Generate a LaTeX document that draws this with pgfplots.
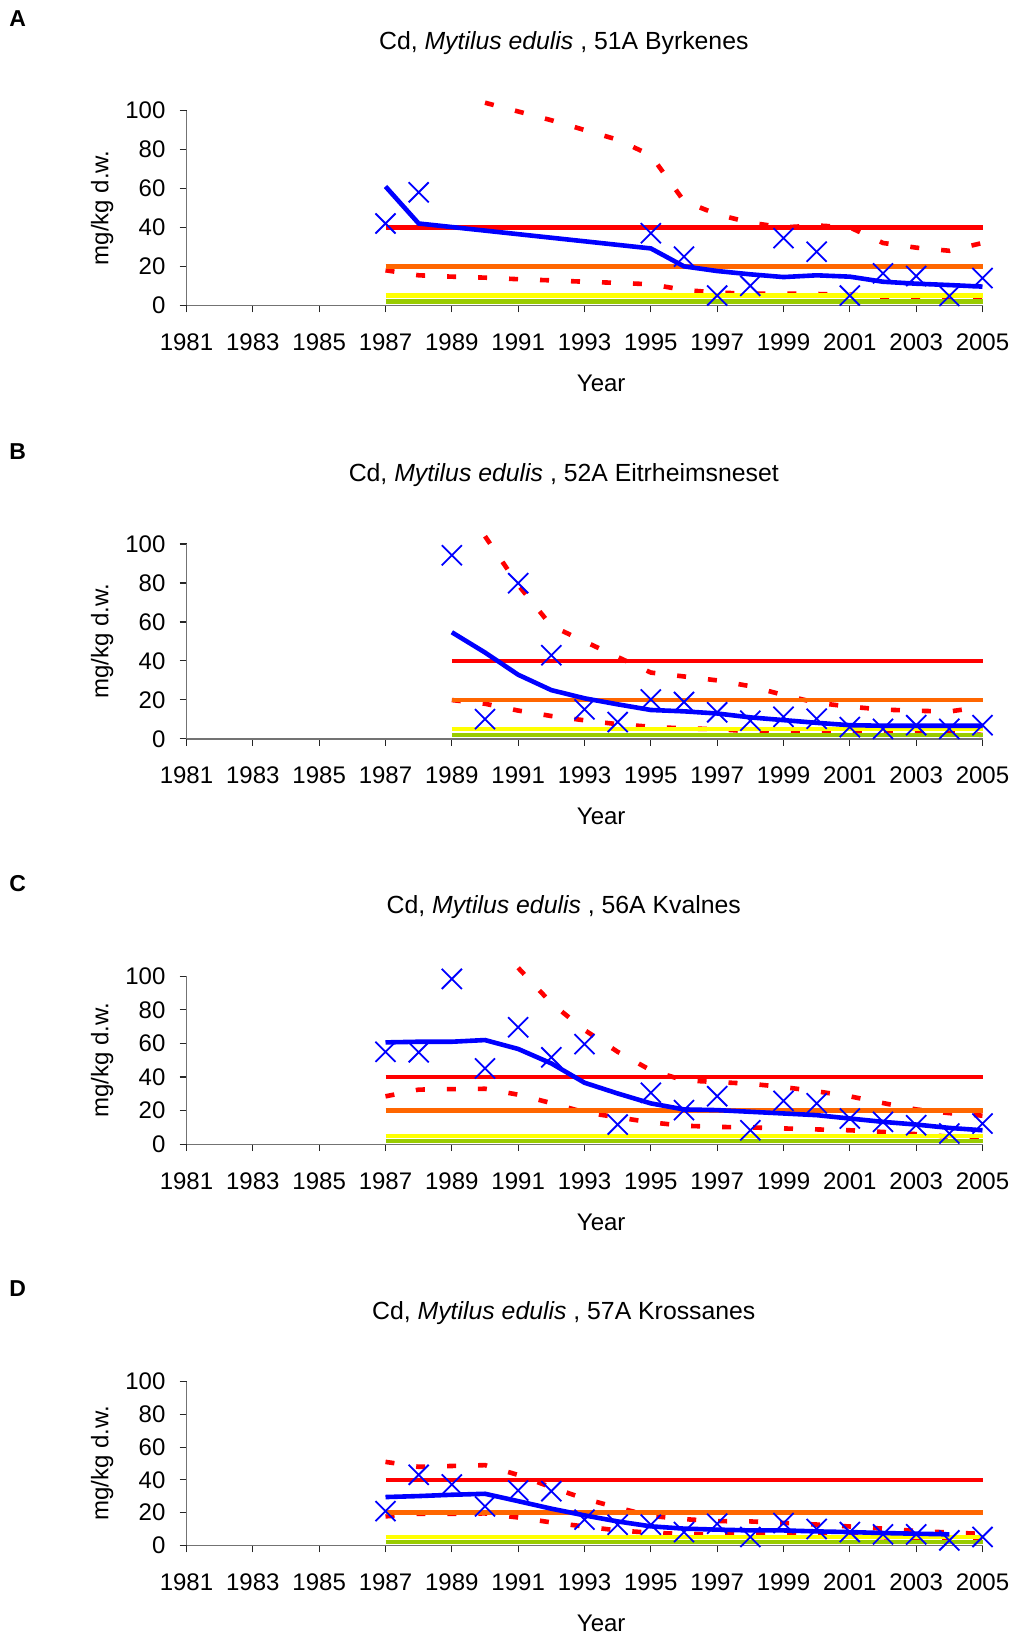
\documentclass[border=0pt]{standalone}
\usepackage{fontspec}
\setmainfont{Liberation Sans}
\usepackage{pgfplots}
\usepackage{pgfplotstable}
\pgfplotsset{compat=1.18}

\definecolor{lvorange}{RGB}{255,102,0}
\definecolor{lvyellow}{RGB}{255,255,0}
\definecolor{lvgreen}{RGB}{153,204,0}

% year, observed, smoothed trend, upper and lower band
\pgfplotstableread{
year obs trend up lo
1987 42 61 nan 18
1988 58 42 nan 15.4
1989 nan nan nan 14.7
1990 nan nan 104 14.2
1991 nan nan 99.5 13.4
1992 nan nan 95 12.8
1993 nan nan 90 12.1
1994 nan nan 85 11.5
1995 37 29.2 77 10.8
1996 25 20 53.5 7.9
1997 5 17.6 46.7 6.5
1998 10 15.9 42.4 6
1999 34.5 14.5 40 6
2000 27.5 15.4 41 5.8
2001 5 14.7 40 5.5
2002 16.4 12.1 32 4
2003 15 11.1 29.6 3.5
2004 4.8 10.4 28 3.5
2005 14 9.6 32 3.5
}\tabA

\pgfplotstableread{
year obs trend up lo
1989 94.2 54.7 nan 19.9
1990 10.1 44.3 104 18
1991 79.9 32.9 79 14.5
1992 42.9 25 58 11.7
1993 15.1 20.8 50 9.5
1994 8.6 17.7 42 7.5
1995 20.2 14.8 34 6.2
1996 18.9 14.1 32 5.3
1997 13.6 13 30 5
1998 9.3 11 27 3.8
1999 11.3 9.6 22.5 3.6
2000 10.3 8.2 18.5 3.6
2001 6 7 16.5 3.5
2002 5.1 6.7 15 3.3
2003 7 6.7 14.4 3.3
2004 5.1 6.7 14 3
2005 7 6.7 16.5 2
}\tabB

\pgfplotstableread{
year obs trend up lo
1987 55 60.6 nan 28.5
1988 54.7 61 nan 32.5
1989 98.4 61 nan 32.8
1990 45.1 62 nan 33
1991 69.6 56.7 105 29.5
1992 51.7 48.1 84 24.5
1993 59.6 36.6 68 19
1994 11.7 30.2 55 16
1995 30.6 24.3 44 13
1996 20.3 20.7 38 11
1997 28.6 20.3 37 10.3
1998 8.3 19.3 36 10
1999 25.8 18.3 34 9.4
2000 24.3 17.3 31.5 8.8
2001 15.3 15.3 28.5 8.3
2002 13.3 13.3 24.5 7.3
2003 11.3 11.7 20.7 6
2004 6.4 9.7 18.5 4.5
2005 12.3 8.3 17 2.5
}\tabC

\pgfplotstableread{
year obs trend up lo
1987 20.9 29.5 51 17.7
1988 43.1 30.1 48 19.3
1989 37.2 30.9 48.5 19.3
1990 23.8 31.5 49 19.5
1991 33.5 27 43 17
1992 33.1 22.4 35.5 14
1993 15.7 18.3 28.5 11.5
1994 12.6 14.6 23 9.1
1995 12.6 11.6 18 7.7
1996 8.1 10.2 16 6.9
1997 13.2 9.6 14.8 6.7
1998 5.1 9.1 14.6 6.8
1999 13.6 9.1 13.7 7
2000 10 8.5 12.7 6
2001 8.1 8.1 11.5 6
2002 6.7 7.5 10.2 5
2003 6.7 7.1 8.8 4
2004 3 6.7 7.8 3
2005 5.1 nan 7 2.5
}\tabD

\pgfplotsset{
  panel/.style={
    scale only axis, width=398pt, anchor=south west,
    xmin=1981, xmax=2005, ymin=0, ymax=100,
    axis x line*=bottom, axis y line*=left,
    axis line style={-, black!55, line width=0.7pt},
    xtick={1981,1983,...,2005}, ytick={0,20,...,100},
    tick align=outside, major tick length=3.5pt,
    tick style={black!85, line width=0.6pt},
    clip=false, unbounded coords=discard,
    /pgf/number format/assume math mode=true,
    /pgf/number format/1000 sep={},
    tick label style={font=\fontsize{12}{14}\selectfont},
    label style={font=\fontsize{12}{14}\selectfont},
    xticklabel style={yshift=-7pt},
    yticklabel style={xshift=-3.5pt},
    xlabel={Year}, ylabel={mg/kg d.w.},
    xlabel style={at={(axis description cs:0.521,0)}, anchor=center, yshift=-39pt},
    ylabel style={at={(axis description cs:-0.106,0.5)}, anchor=center},
  },
  band/.style={red, line width=2.3pt, dash pattern=on 4.5pt off 11pt, no markers},
  hline/.style={line width=2.3pt, no markers},
  trend/.style={blue, line width=2.3pt, no markers},
  obs/.style={blue, only marks, mark=x, mark size=7.1pt, mark options={line width=0.9pt}},
}

\begin{document}
\begin{tikzpicture}
\useasboundingbox (0,0) rectangle (508pt,-817pt);

\node[font=\bfseries\fontsize{11.5}{14}\selectfont] at (8.9pt,-9.4pt) {A};
\node[font=\fontsize{12.4}{15}\selectfont] at (281.9pt,-21.3pt) {Cd, \textit{Mytilus edulis} , 51A Byrkenes};
\begin{axis}[panel, height=97.4pt, at={(93.25pt,-152.65pt)}]
\addplot[band] table[x=year,y=up]{\tabA};
\addplot[band] table[x=year,y=lo]{\tabA};
\addplot[hline, lvgreen] coordinates {(1987,2) (2005,2)};
\addplot[hline, lvyellow] coordinates {(1987,5) (2005,5)};
\addplot[hline, lvorange] coordinates {(1987,20) (2005,20)};
\addplot[hline, red] coordinates {(1987,40) (2005,40)};
\addplot[trend] table[x=year,y=trend]{\tabA};
\addplot[obs] table[x=year,y=obs]{\tabA};
\end{axis}

\node[font=\bfseries\fontsize{11.5}{14}\selectfont] at (8.9pt,-225.6pt) {B};
\node[font=\fontsize{12.4}{15}\selectfont] at (281.9pt,-237.5pt) {Cd, \textit{Mytilus edulis} , 52A Eitrheimsneset};
\begin{axis}[panel, height=97.4pt, at={(93.25pt,-369.4pt)}]
\addplot[band] table[x=year,y=up]{\tabB};
\addplot[band] table[x=year,y=lo]{\tabB};
\addplot[hline, lvgreen] coordinates {(1989,2) (2005,2)};
\addplot[hline, lvyellow] coordinates {(1989,5) (2005,5)};
\addplot[hline, lvorange] coordinates {(1989,20) (2005,20)};
\addplot[hline, red] coordinates {(1989,40) (2005,40)};
\addplot[trend] table[x=year,y=trend]{\tabB};
\addplot[obs] table[x=year,y=obs]{\tabB};
\end{axis}

\node[font=\bfseries\fontsize{11.5}{14}\selectfont] at (8.9pt,-441.8pt) {C};
\node[font=\fontsize{12.4}{15}\selectfont] at (281.9pt,-453.7pt) {Cd, \textit{Mytilus edulis} , 56A Kvalnes};
\begin{axis}[panel, height=84pt, at={(93.25pt,-572.1pt)}]
\addplot[band] table[x=year,y=up]{\tabC};
\addplot[band] table[x=year,y=lo]{\tabC};
\addplot[hline, lvgreen] coordinates {(1987,2) (2005,2)};
\addplot[hline, lvyellow] coordinates {(1987,5) (2005,5)};
\addplot[hline, lvorange] coordinates {(1987,20) (2005,20)};
\addplot[hline, red] coordinates {(1987,40) (2005,40)};
\addplot[trend] table[x=year,y=trend]{\tabC};
\addplot[obs] table[x=year,y=obs]{\tabC};
\end{axis}

\node[font=\bfseries\fontsize{11.5}{14}\selectfont] at (8.9pt,-644.5pt) {D};
\node[font=\fontsize{12.4}{15}\selectfont] at (281.9pt,-656.4pt) {Cd, \textit{Mytilus edulis} , 57A Krossanes};
\begin{axis}[panel, height=81.8pt, at={(93.25pt,-772.65pt)}]
\addplot[band] table[x=year,y=up]{\tabD};
\addplot[band] table[x=year,y=lo]{\tabD};
\addplot[hline, lvgreen] coordinates {(1987,2) (2005,2)};
\addplot[hline, lvyellow] coordinates {(1987,5) (2005,5)};
\addplot[hline, lvorange] coordinates {(1987,20) (2005,20)};
\addplot[hline, red] coordinates {(1987,40) (2005,40)};
\addplot[trend] table[x=year,y=trend]{\tabD};
\addplot[obs] table[x=year,y=obs]{\tabD};
\end{axis}
\end{tikzpicture}
\end{document}
